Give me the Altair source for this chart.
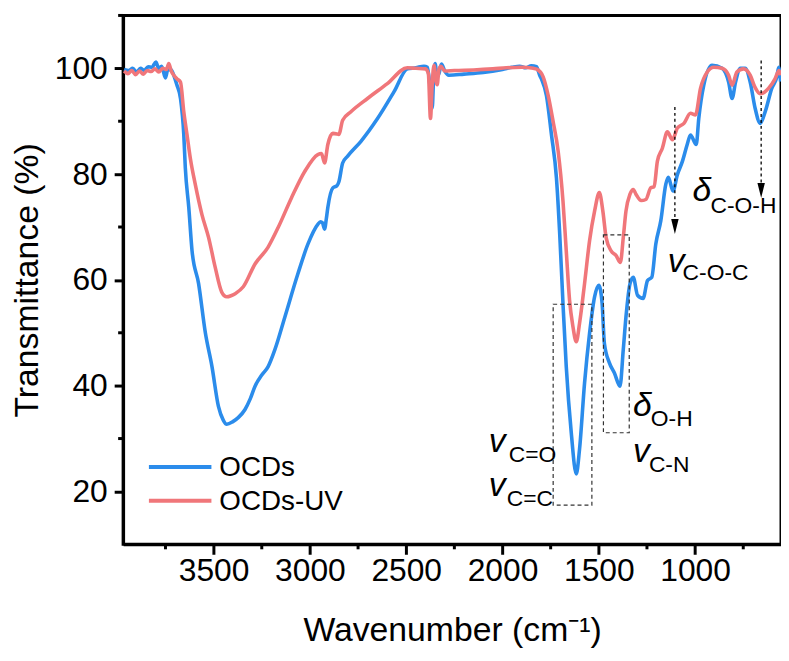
import altair as alt
import pandas as pd

# ---------------- data ----------------
series_names = ["OCDs", "OCDs-UV"]
series_colors = ["#2B8CEB", "#F0767A"]

wn_ocd = [3965, 3940, 3920, 3900, 3880, 3860, 3840, 3820, 3800, 3785, 3770, 3750, 3738, 3720,
          3705, 3691, 3672, 3655, 3647, 3629, 3612, 3578, 3543, 3509, 3475, 3450, 3432, 3400,
          3371, 3337, 3310, 3285, 3250, 3217, 3182, 3130, 3062, 3010, 2959, 2945, 2935, 2924,
          2915, 2907, 2881, 2860, 2850, 2830, 2804, 2735, 2649, 2563, 2494, 2450, 2408, 2390,
          2375, 2365, 2358, 2350, 2340, 2330, 2317, 2300, 2279, 2200, 2100, 2000, 1950, 1911,
          1880, 1850, 1824, 1807, 1798, 1772, 1746, 1720, 1703, 1686, 1669, 1643, 1617, 1600,
          1574, 1548, 1522, 1500, 1483, 1471, 1445, 1419, 1390, 1373, 1359, 1338, 1321, 1299,
          1270, 1247, 1225, 1204, 1178, 1152, 1139, 1115, 1092, 1066, 1041, 1024, 994, 981,
          955, 912, 860, 826, 808, 790, 765, 740, 714, 688, 662, 636, 602, 575, 566, 556]
t_ocd = [99.8, 99.6, 100.0, 99.3, 100.0, 99.6, 100.3, 100.2, 101.2, 100.0, 100.4, 98.2, 99.8, 99.7,
         98.5, 96.9, 94.3, 87.5, 81.2, 73.7, 65.5, 59.3, 50.0, 43.7, 36.1, 33.5, 32.7, 33.2,
         34.0, 35.5, 37.5, 39.9, 42.0, 43.6, 46.8, 53.0, 61.2, 66.8, 70.5, 71.0, 70.8, 69.6,
         71.5, 73.7, 77.4, 77.8, 78.5, 82.1, 83.4, 86.2, 90.5, 95.6, 99.9, 100.1, 100.4, 100.2,
         96.0, 92.5, 98.0, 100.9, 98.5, 99.0, 100.8, 99.5, 98.7, 98.9, 99.2, 99.8, 100.2, 100.4,
         100.1, 100.5, 100.3, 98.7, 98.0, 94.9, 87.5, 79.3, 68.7, 55.5, 43.6, 31.1, 23.3, 28.0,
         40.5, 49.9, 56.8, 59.0, 55.6, 48.0, 44.3, 42.4, 39.9, 46.8, 53.0, 59.3, 60.5, 57.1,
         56.5, 59.9, 60.5, 66.8, 71.2, 78.1, 79.4, 76.8, 79.9, 82.4, 85.6, 87.4, 85.6, 90.5,
         96.8, 100.6, 100.0, 97.4, 94.3, 97.4, 100.0, 100.0, 97.4, 92.4, 89.6, 91.8, 96.2, 98.5, 100.2, 97.5]

wn_uv = [3965, 3945, 3925, 3905, 3885, 3865, 3845, 3825, 3805, 3785, 3765, 3745, 3733, 3720,
         3707, 3690, 3672, 3655, 3638, 3621, 3595, 3561, 3526, 3492, 3458, 3432, 3410, 3388,
         3346, 3285, 3217, 3165, 3096, 3027, 2959, 2940, 2924, 2907, 2881, 2860, 2850, 2830,
         2787, 2701, 2598, 2494, 2450, 2400, 2385, 2374, 2365, 2356, 2345, 2339, 2330, 2320,
         2300, 2250, 2150, 2050, 1980, 1900, 1840, 1820, 1789, 1763, 1737, 1711, 1686, 1669,
         1652, 1634, 1617, 1600, 1574, 1548, 1522, 1497, 1479, 1462, 1436, 1410, 1388, 1373,
         1359, 1338, 1321, 1307, 1280, 1256, 1230, 1213, 1196, 1170, 1144, 1118, 1092, 1058,
         1024, 998, 972, 937, 903, 860, 826, 808, 783, 749, 714, 690, 662, 640, 619, 585, 564, 556]
t_uv = [99.5, 99.0, 99.6, 98.8, 99.5, 98.9, 99.6, 99.4, 99.9, 99.3, 100.0, 99.8, 100.9, 99.5,
        98.7, 98.0, 97.4, 91.8, 87.4, 83.0, 78.0, 72.4, 68.0, 62.4, 57.7, 56.8, 57.0, 57.4,
        58.7, 63.0, 66.2, 69.9, 75.5, 80.5, 83.7, 83.9, 82.1, 85.6, 87.7, 87.6, 87.5, 90.2,
        91.8, 94.3, 97.1, 100.1, 100.0, 99.9, 99.0, 90.5, 97.0, 100.6, 97.5, 96.9, 99.8, 100.4,
        99.5, 99.6, 99.7, 99.9, 100.1, 100.2, 100.0, 99.8, 98.4, 94.9, 89.9, 84.3, 74.9, 65.5,
        56.2, 51.1, 48.3, 51.8, 59.3, 67.4, 73.0, 76.5, 73.0, 68.0, 65.5, 64.6, 63.3, 68.0,
        73.0, 76.2, 77.1, 76.2, 75.0, 75.2, 77.4, 77.6, 82.4, 84.9, 88.0, 86.5, 88.7, 89.6,
        91.5, 91.2, 96.2, 99.3, 100.2, 100.0, 98.7, 96.8, 99.3, 99.9, 98.7, 96.5, 95.2, 95.5, 96.2, 98.0, 99.6, 98.7]

x_ticks = [3500, 3000, 2500, 2000, 1500, 1000]
x_minor = [3750, 3250, 2750, 2250, 1750, 1250, 750]
y_ticks = [20, 40, 60, 80, 100]
y_minor = [30, 50, 70, 90, 110]
x_domain = [3970, 554]
y_domain = [10, 110]

# annotation labels
ann_main = ["v", "v", "δ", "v", "v", "δ"]
ann_main_wn = [2071, 2071, 1323, 1323, 1142, 1013]
ann_main_t = [27.4, 19.2, 34.2, 25.6, 61.4, 74.9]
ann_sub = ["C=O", "C=C", "O-H", "C-N", "C-O-C", "C-O-H"]
ann_sub_wn = [1968, 1978, 1230, 1240, 1065, 920]
ann_sub_t = [25.6, 17.3, 32.3, 23.7, 59.9, 72.7]

box_wn1 = [1737, 1476]
box_wn2 = [1536, 1342]
box_t1 = [55.4, 68.5]
box_t2 = [17.4, 31.1]

arrow_wn = [1105, 657]
arrow_top = [92.7, 101.5]
arrow_base = [70.1, 76.9]

FONT = "Liberation Sans"

# ---------------- tables ----------------
df = pd.concat([
    pd.DataFrame({"wn": wn_ocd, "t": t_ocd, "series": series_names[0]}),
    pd.DataFrame({"wn": wn_uv, "t": t_uv, "series": series_names[1]}),
], ignore_index=True)

xs = alt.Scale(domain=x_domain, nice=False, zero=False)
ys = alt.Scale(domain=y_domain, nice=False, zero=False)

x_axis = alt.Axis(values=x_ticks, title="Wavenumber (cm⁻¹)", tickSize=10, labelPadding=1,
                  labelFlush=False, labelOverlap=False, titlePadding=28, format="d")
y_axis = alt.Axis(values=y_ticks, title="Transmittance (%)", tickSize=9, labelPadding=7,
                  titlePadding=10, format="d")


def X():
    return alt.X("wn:Q", scale=xs, axis=x_axis)


def Y():
    return alt.Y("t:Q", scale=ys, axis=y_axis)


lines = alt.Chart(df).mark_line(strokeWidth=3.6, interpolate="monotone").encode(
    x=X(), y=Y(),
    color=alt.Color("series:N", scale=alt.Scale(domain=series_names, range=series_colors), legend=None),
)

ymin = alt.Chart(pd.DataFrame({"t": y_minor})).mark_rule(color="black", strokeWidth=3).encode(
    y=Y(), x=alt.value(-5), x2=alt.value(0))
xmin = alt.Chart(pd.DataFrame({"wn": x_minor})).mark_rule(color="black", strokeWidth=3).encode(
    x=X(), y=alt.value(533), y2=alt.value(538))

# legend (drawn manually inside the plot)
leg_blue = alt.Chart(pd.DataFrame({"a": [0]})).mark_rule(strokeWidth=4, color=series_colors[0]).encode(
    x=alt.value(26), x2=alt.value(89), y=alt.value(455))
leg_red = alt.Chart(pd.DataFrame({"a": [0]})).mark_rule(strokeWidth=4, color=series_colors[1]).encode(
    x=alt.value(26), x2=alt.value(89), y=alt.value(489))
leg_txt = alt.Chart(pd.DataFrame({"label": series_names, "yy": [456, 490]})).mark_text(
    align="left", baseline="middle", fontSize=28, font=FONT, color="black").encode(
    x=alt.value(97), y=alt.Y("yy:Q", scale=None), text="label:N")

main_txt = alt.Chart(pd.DataFrame({"wn": ann_main_wn, "t": ann_main_t, "label": ann_main})).mark_text(
    align="left", baseline="alphabetic", fontSize=34, fontStyle="italic", font=FONT, color="black").encode(
    x=X(), y=Y(), text="label:N")
sub_txt = alt.Chart(pd.DataFrame({"wn": ann_sub_wn, "t": ann_sub_t, "label": ann_sub})).mark_text(
    align="left", baseline="alphabetic", fontSize=23, font=FONT, color="black").encode(
    x=X(), y=Y(), text="label:N")

boxes = alt.Chart(pd.DataFrame({"wn": box_wn1, "wn2": box_wn2, "t": box_t1, "t2": box_t2})).mark_rect(
    filled=False, stroke="#333333", strokeWidth=1.2, strokeDash=[4, 3]).encode(
    x=X(), x2="wn2:Q", y=Y(), y2="t2:Q")

arrows = alt.Chart(pd.DataFrame({"wn": arrow_wn, "t": arrow_top, "t2": arrow_base})).mark_rule(
    color="black", strokeWidth=1.3, strokeDash=[3, 3]).encode(
    x=X(), y=Y(), y2="t2:Q")
heads = alt.Chart(pd.DataFrame({"wn": arrow_wn, "t": arrow_base})).mark_point(
    shape="M-0.5,-1L0.5,-1L0,1Z", size=225, filled=True, color="black", opacity=1).encode(
    x=X(), y=Y())

chart = alt.layer(lines, ymin, xmin, leg_blue, leg_red, leg_txt, boxes, arrows, heads, main_txt, sub_txt).properties(
    width=663, height=533,
    autosize=alt.AutoSizeParams(type="none"),
    padding={"left": 116, "top": 5, "right": 0, "bottom": 107},
).configure_axis(
    domainColor="black", domainWidth=3, tickColor="black", tickWidth=3, grid=False,
    labelFont=FONT, labelFontSize=32, labelColor="black",
    titleFont=FONT, titleFontSize=34, titleFontWeight="normal", titleColor="black",
).configure_view(stroke="black", strokeWidth=3)

chart.save("out.html", embed_options={"renderer": "svg", "actions": False})
